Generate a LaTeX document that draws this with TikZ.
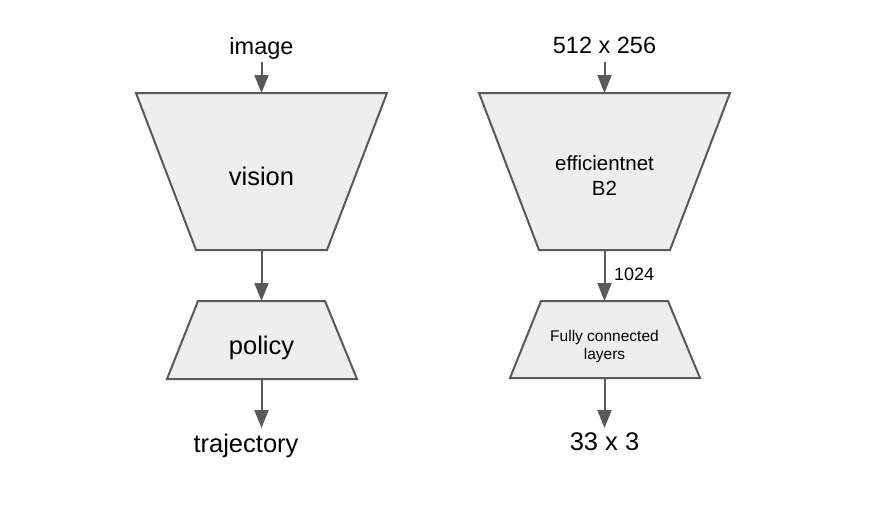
\documentclass[tikz,border=0pt]{standalone}
\usepackage{fontspec}
\setmainfont{Liberation Sans}
\usetikzlibrary{arrows.meta}
\definecolor{strk}{HTML}{595959}
\definecolor{fillg}{HTML}{EEEEEE}
\tikzset{
  trap/.style={draw=strk, fill=fillg, line width=2pt, line join=miter},
  conn/.style={draw=strk, line width=2pt, -{Triangle[length=18pt,width=14pt]}},
  lbl/.style={inner sep=0pt, anchor=base, text=black},
}
\begin{document}
\begin{tikzpicture}[x=1pt,y=-1pt]
\useasboundingbox[fill=white] (0,0) rectangle (871,504);
% left column
\draw[trap] (136,93) -- (387,93) -- (327,250) -- (196,250) -- cycle;
\draw[trap] (198,301) -- (325,301) -- (357,379) -- (167,379) -- cycle;
\coordinate (vtop) at (261.5,93);
\coordinate (vbot) at (261.5,250);
\coordinate (ptop) at (261.5,301);
\coordinate (pbot) at (261.5,379);
\node[lbl, font=\fontsize{23.5}{28}\selectfont] (image) at (261.5,54) {image};
\node[lbl, font=\fontsize{25.5}{30}\selectfont] (vision) at (261.5,185) {vision};
\node[lbl, font=\fontsize{25.5}{30}\selectfont] (policy) at (261.5,354) {policy};
\node[lbl, font=\fontsize{25.5}{30}\selectfont] (traj) at (246,452) {trajectory};
\coordinate (imgarr) at (261.5,62);
\coordinate (trajarr) at (261.5,428);
\draw[conn] (imgarr) -- (vtop);
\draw[conn] (vbot) -- (ptop);
\draw[conn] (pbot) -- (trajarr);
% right column
\draw[trap] (479,93) -- (730,93) -- (670,250) -- (539,250) -- cycle;
\draw[trap] (541,301) -- (668,301) -- (700,378) -- (510,378) -- cycle;
\coordinate (etop) at (604.5,93);
\coordinate (ebot) at (604.5,250);
\coordinate (ftop) at (604.5,301);
\coordinate (fbot) at (604.5,378);
\node[lbl, font=\fontsize{23.5}{28}\selectfont] (insize) at (604.5,53) {512 x 256};
\node[lbl, font=\fontsize{20.5}{25}\selectfont] (eff) at (604.5,170) {efficientnet};
\node[lbl, font=\fontsize{20.5}{25}\selectfont] (b2) at (604.5,195) {B2};
\node[lbl, font=\fontsize{15.5}{18.6}\selectfont] (fc1) at (604.5,341) {Fully connected};
\node[lbl, font=\fontsize{15.5}{18.6}\selectfont] (fc2) at (604.5,359) {layers};
\node[lbl, font=\fontsize{25.5}{30}\selectfont] (outsize) at (604.5,450) {33 x 3};
\node[lbl, anchor=base west, font=\fontsize{18}{21}\selectfont] (feat) at (614,280) {1024};
\coordinate (inarr) at (604.5,62);
\coordinate (outarr) at (604.5,428);
\draw[conn] (inarr) -- (etop);
\draw[conn] (ebot) -- (ftop);
\draw[conn] (fbot) -- (outarr);
\end{tikzpicture}
\end{document}
